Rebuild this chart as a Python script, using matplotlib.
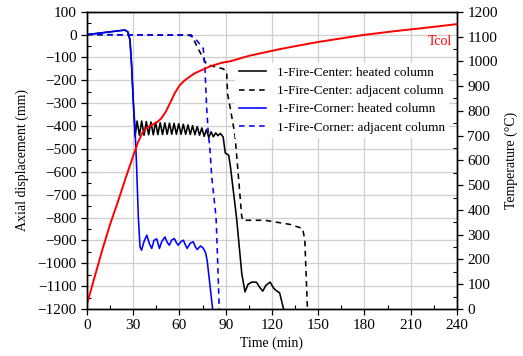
import matplotlib
matplotlib.use("Agg")
import matplotlib.pyplot as plt
from matplotlib.ticker import MultipleLocator

plt.rcParams['font.family'] = ['Liberation Serif', 'DejaVu Serif']
plt.rcParams['mathtext.fontset'] = 'stix'

# 1-Fire-Center: heated column
center_heated_t = [0, 24.6, 26.5, 27.9, 29, 30, 31.2,
                   32.5, 34, 35.5, 37, 38.5, 40, 41.5, 43, 44.5, 46, 47.5, 49, 50.5, 52,
                   53.5, 55, 56.5, 58, 59.5, 61, 62.5, 64, 65.5, 67, 68.5, 70, 71.5, 73,
                   74.5, 76, 77.5, 79, 80.5, 82, 83.5, 85, 86.5, 88.3, 89.7, 91.9, 93,
                   97, 100.4, 102.5, 104.5, 107, 110, 112, 114, 116, 118.8, 121, 122.5,
                   125, 127.5]
center_heated_v = [0, 20, 12, -24, -141, -287, -447,
                   -378, -440, -378, -440, -380, -438, -382, -438, -383, -437, -385, -437, -386, -436,
                   -387, -436, -388, -436, -390, -436, -392, -436, -395, -437, -398, -438, -402, -440,
                   -408, -445, -415, -450, -425, -447, -430, -442, -432, -447, -518, -527, -575,
                   -800, -1045, -1125, -1092, -1082, -1083, -1105, -1122, -1097, -1082, -1108, -1118,
                   -1130, -1200]

# 1-Fire-Center: adjacent column
center_adj_t = [0, 65, 67.8, 72, 77.6, 88.5, 90.6, 91.2, 92.8, 96, 100.4, 101.5, 103.6,
                115.5, 131.7, 139.9, 141.3, 143]
center_adj_v = [0, -2, -2, -60, -131, -150, -165, -260, -316, -440, -797, -815, -812,
                -812, -830, -848, -900, -1200]

# 1-Fire-Corner: heated column
corner_heated_t = [0, 24.6, 26.5, 27.9, 29, 30, 31.1, 32.2, 33.3, 34.4, 35.4,
                   37, 38.8, 40.5, 42, 43.5, 45.2, 47, 48.5, 50.6, 52, 53.4, 55, 56.7,
                   58, 59.2, 61, 62.5, 64, 65, 67, 68.9, 70.3, 71.5, 73.7, 75.5, 77, 78, 81.5]
corner_heated_v = [0, 20, 12, -24, -141, -287, -400, -578, -797, -928, -943,
                   -905, -877, -915, -935, -900, -893, -935, -905, -885, -908, -921, -898, -892,
                   -910, -921, -905, -899, -922, -935, -912, -906, -928, -940, -924, -935, -955, -990, -1200]

# 1-Fire-Corner: adjacent column
corner_adj_t = [0, 62.5, 66, 70, 75.4, 76.5, 77.6, 78.7, 79.8, 80.9, 83.7, 84.3, 85.8]
corner_adj_v = [0, -2, -2, -16, -60, -140, -316, -432, -505, -620, -797, -900, -1200]

# Column temperature Tcol
tcol_t = [0, 5, 10, 15, 20, 25, 29, 33, 36, 39, 42, 45, 48, 51, 54, 57, 60, 63, 66, 70, 75,
          80, 88, 93, 105, 125, 136, 150, 179, 200, 222, 240]
tcol_T = [20, 130, 240, 342, 432, 527, 600, 672, 712, 733, 743, 752, 768, 795, 833, 872, 902,
          921, 935, 952, 966, 980, 995, 1000, 1022, 1049, 1062, 1078, 1106, 1122, 1137, 1150]

legend_labels = ["1-Fire-Center: heated column", "1-Fire-Center: adjacent column",
                 "1-Fire-Corner: heated column", "1-Fire-Corner: adjacent column"]

fig = plt.figure(figsize=(5.23, 3.56), dpi=100)
ax = fig.add_axes([0.1663, 0.132, 0.7075, 0.835])
ax2 = ax.twinx()

dash = (0, (3.5, 2.8))
lw = 1.15
ax.plot(center_heated_t, center_heated_v, color='black', lw=lw, label=legend_labels[0])
ax.plot(center_adj_t, center_adj_v, color='black', lw=lw, linestyle=dash, label=legend_labels[1])
ax.plot(corner_heated_t, corner_heated_v, color='blue', lw=lw, label=legend_labels[2])
ax.plot(corner_adj_t, corner_adj_v, color='blue', lw=lw, linestyle=dash, label=legend_labels[3])

ax2.plot(tcol_t, tcol_T, color='red', lw=1.4)
ax2.text(237, 1078, 'Tcol', color='red', ha='right', va='center', fontsize=10)

ax.set_xlim(0, 240)
ax.set_ylim(-1200, 100)
ax2.set_ylim(0, 1200)

ax.xaxis.set_major_locator(MultipleLocator(30))
ax.xaxis.set_minor_locator(MultipleLocator(15))
ax.yaxis.set_major_locator(MultipleLocator(100))
ax.yaxis.set_minor_locator(MultipleLocator(50))
ax2.yaxis.set_major_locator(MultipleLocator(100))
ax2.yaxis.set_minor_locator(MultipleLocator(50))

ax.grid(True, which='major', color='#cfcfcf', lw=0.9)
ax.set_axisbelow(True)

for a in (ax, ax2):
    a.tick_params(which='major', direction='out', length=4, width=0.9, labelsize=11)
    a.tick_params(which='minor', direction='in', length=3, width=0.8)
    for s in a.spines.values():
        s.set_linewidth(1.0)
ax.tick_params(axis='x', which='both', top=False)

ax.set_xlabel('Time (min)', fontsize=10, labelpad=3)
ax.set_ylabel('Axial displacement (mm)', fontsize=10, labelpad=6)
ax2.set_ylabel('Temperature (°C)', fontsize=10, labelpad=5)

leg = ax.legend(loc='upper right', bbox_to_anchor=(0.978, 0.828), borderaxespad=0,
                fontsize=9.5, frameon=True, fancybox=False, framealpha=1,
                edgecolor='none', handlelength=2.1, handletextpad=0.8, labelspacing=0.45,
                borderpad=0.3)

fig.savefig('out.png', dpi=100)
